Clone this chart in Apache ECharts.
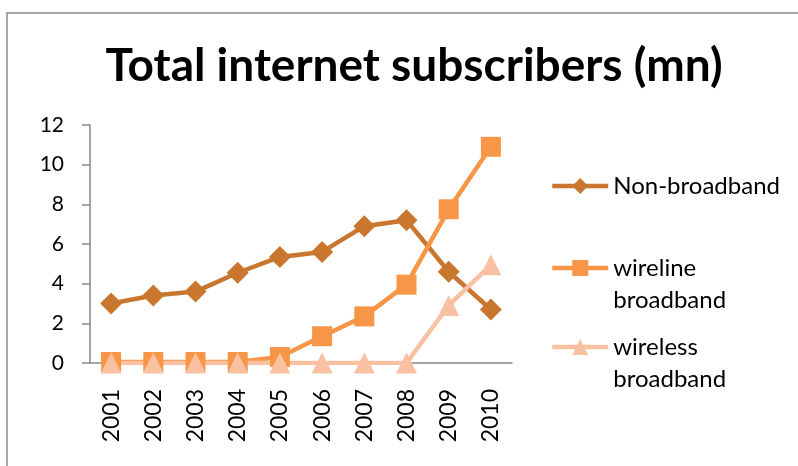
<!DOCTYPE html>
<html>
<head>
<meta charset="utf-8">
<script src="https://cdn.jsdelivr.net/npm/echarts@6/dist/echarts.min.js"></script>
<style>
html,body{margin:0;padding:0;background:#fff;}
#chart{width:798px;height:466px;}
</style>
</head>
<body>
<div id="chart"></div>
<script>
var categories = ['2001','2002','2003','2004','2005','2006','2007','2008','2009','2010'];
var nonBroadband = [3.0, 3.4, 3.6, 4.55, 5.35, 5.6, 6.9, 7.2, 4.6, 2.7];
var wirelineBroadband = [0.05, 0.05, 0.05, 0.05, 0.3, 1.35, 2.35, 3.95, 7.75, 10.9];
var wirelessBroadband = [0, 0, 0, 0, 0, 0, 0, 0, 2.9, 4.95];
var yTicks = {min: 0, max: 12, interval: 2};
var seriesNames = ['Non-broadband', 'wireline broadband', 'wireless broadband'];

var FONT = 'Lato';
var chart = echarts.init(document.getElementById('chart'), null, {renderer: 'canvas'});

function legendFor(name, top, label) {
  return {
    data: [name],
    left: 550,
    top: top,
    padding: 0,
    itemWidth: 56,
    itemHeight: 20,
    itemGap: 0,
    lineStyle: {width: 4.5},
    formatter: function () { return label; },
    textStyle: {
      fontFamily: FONT,
      fontSize: 24,
      color: '#000',
      lineHeight: 32
    }
  };
}

chart.setOption({
  backgroundColor: '#fff',
  animation: false,
  title: {
    text: 'Total internet subscribers (mn)',
    left: 409,
    textAlign: 'center',
    top: 38,
    textStyle: {fontFamily: FONT, fontWeight: 'bold', fontSize: 46, color: '#000'}
  },
  graphic: [{
    type: 'rect',
    shape: {x: 7, y: 13, width: 820, height: 480},
    style: {fill: 'none', stroke: '#8a8a8a', lineWidth: 1.5},
    silent: true
  }],
  legend: [
    legendFor(seriesNames[0], 170, 'Non-broadband'),
    legendFor(seriesNames[1], 220, ' \nwireline\nbroadband'),
    legendFor(seriesNames[2], 299, ' \nwireless\nbroadband')
  ],
  grid: {left: 90, right: 286, top: 125, bottom: 103, containLabel: false},
  xAxis: {
    type: 'category',
    data: categories,
    boundaryGap: true,
    axisLine: {lineStyle: {color: '#868686', width: 1.5}},
    axisTick: {show: false},
    axisLabel: {rotate: 90, margin: 26, fontFamily: FONT, fontSize: 23, color: '#000'}
  },
  yAxis: {
    type: 'value',
    min: yTicks.min,
    max: yTicks.max,
    interval: yTicks.interval,
    axisLine: {show: true, lineStyle: {color: '#868686', width: 1.5}},
    axisTick: {show: true, length: 8, lineStyle: {color: '#868686', width: 1.5}},
    splitLine: {show: false},
    axisLabel: {margin: 26, fontFamily: FONT, fontSize: 21, color: '#000'}
  },
  series: [
    {
      name: seriesNames[0], type: 'line', data: nonBroadband,
      symbol: 'diamond', symbolSize: 22,
      lineStyle: {color: '#C9772F', width: 4.5},
      itemStyle: {color: '#C9772F'}
    },
    {
      name: seriesNames[1], type: 'line', data: wirelineBroadband,
      symbol: 'rect', symbolSize: 20,
      lineStyle: {color: '#F79646', width: 4.5},
      itemStyle: {color: '#F79646'}
    },
    {
      name: seriesNames[2], type: 'line', data: wirelessBroadband,
      symbol: 'triangle', symbolSize: 21,
      lineStyle: {color: '#F9C1A2', width: 4.5},
      itemStyle: {color: '#F9C1A2'}
    }
  ]
});
</script>
</body>
</html>
